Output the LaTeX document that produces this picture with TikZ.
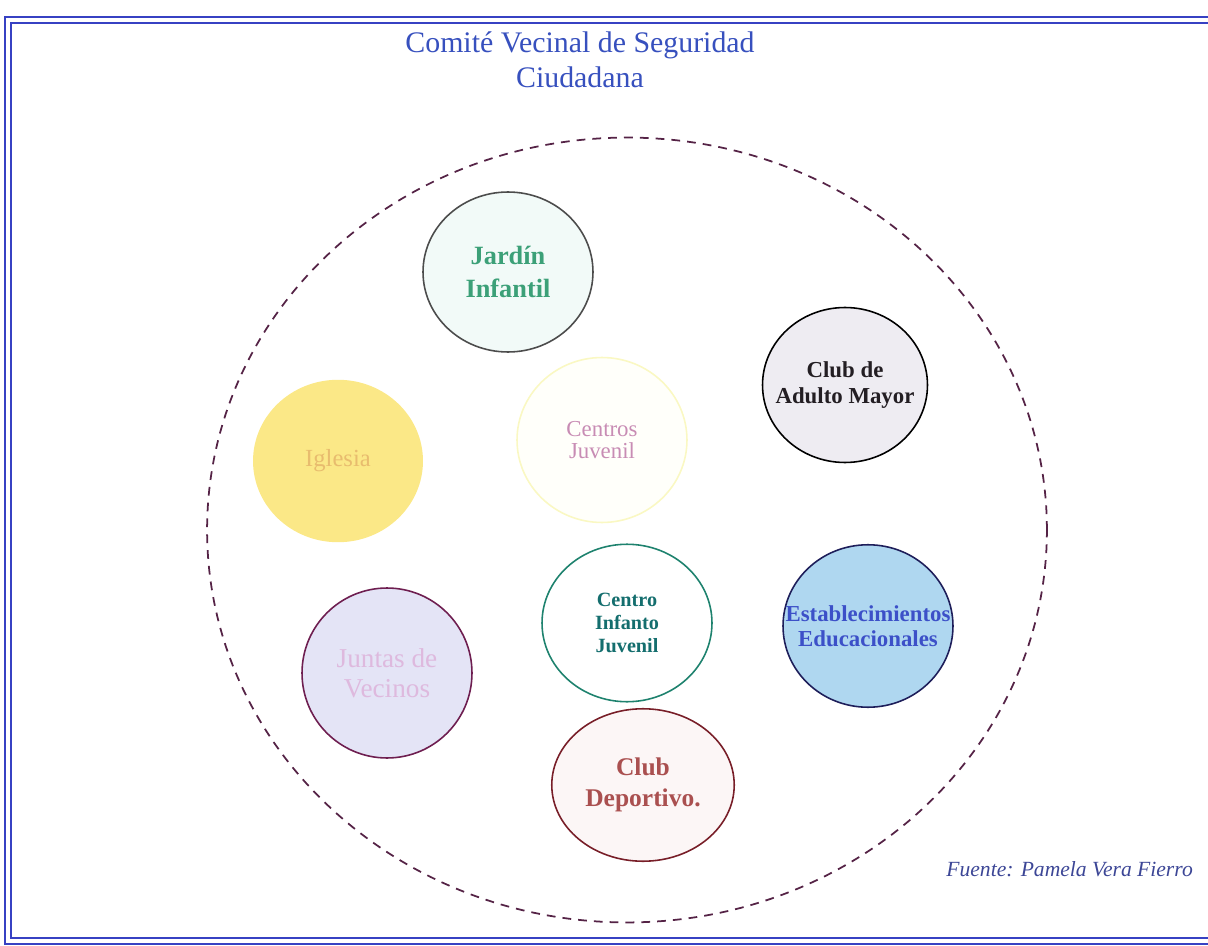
\documentclass[tikz,border=0pt]{standalone}
\usepackage{fontspec}
\setmainfont{Liberation Serif}
\usepackage{tikz}
\usetikzlibrary{shapes.geometric}
\definecolor{framebl}{RGB}{55,65,195}
\definecolor{titlebl}{RGB}{55,80,190}
\definecolor{ringcol}{RGB}{85,35,70}
\def\Member#1#2#3#4#5#6{%
 \node (#1) [member, #4] at (#2,#3) {};
 \node (#1-text) [member text, #5] at (#1.center) {#6};
}
\tikzset{x=0.02cm, y=-0.02cm,
  member/.style={ellipse, draw, line width=0.9pt, inner sep=0pt,
        minimum width=3.4cm, minimum height=3.2cm},
  member text/.style={align=center, inner sep=0pt},
  ring/.style={ellipse, draw=ringcol, line width=1pt,
        dash pattern=on 5pt off 4pt, inner sep=0pt},
  frame line/.style={draw=framebl, line width=1.1pt, double=white,
        double distance=2pt}
  }
\begin{document}
\begin{tikzpicture}
\useasboundingbox (0,0) rectangle (1208,946);
\begin{scope}
  \clip (0,0) rectangle (1208,946);
  \draw[frame line] (8,20) rectangle (1240,941);
\end{scope}
\node (Title) [titlebl, align=center, font=\fontsize{17}{20}\selectfont] at (580,60)
  {Comité Vecinal de Seguridad\\Ciudadana};
\node (Ring) [ring, minimum width=16.8cm, minimum height=15.7cm] at (627,530) {};
%\Member{name}{x}{y}{shape}{text style}{text}
\Member{jardin}{508}{272}{draw=black!70, fill={rgb,255:red,242;green,250;blue,248}}
  {text={rgb,255:red,60;green,160;blue,120}, font=\fontsize{15}{19}\selectfont\bfseries}{Jardín\\Infantil}
\Member{adulto}{845}{385}{draw=black, fill={rgb,255:red,238;green,236;blue,242},
  minimum width=3.3cm, minimum height=3.1cm}
  {text={rgb,255:red,35;green,30;blue,35}, font=\fontsize{13}{15}\selectfont\bfseries}{Club de\\Adulto Mayor}
\Member{iglesia}{338}{461}{draw=none, fill={rgb,255:red,251;green,232;blue,135},
  minimum height=3.25cm}
  {text={rgb,255:red,232;green,188;blue,110}, font=\fontsize{14}{18}\selectfont}{Iglesia}
\Member{centros}{602}{440}{draw={rgb,255:red,250;green,248;blue,195}, fill={rgb,255:red,255;green,255;blue,250},
  minimum width=3.4cm, minimum height=3.3cm}
  {text={rgb,255:red,200;green,140;blue,180}, font=\fontsize{13}{13}\selectfont}{Centros\\Juvenil}
\Member{infanto}{627}{623}{draw={rgb,255:red,30;green,130;blue,110}, fill=white,
  minimum height=3.15cm}
  {text={rgb,255:red,20;green,110;blue,110}, font=\fontsize{11.5}{13}\selectfont\bfseries}{Centro\\Infanto\\Juvenil}
\Member{educa}{868}{626}{draw={rgb,255:red,30;green,30;blue,90}, fill={rgb,255:red,175;green,215;blue,240},
  minimum height=3.25cm}
  {text={rgb,255:red,60;green,80;blue,200}, font=\fontsize{13}{14}\selectfont\bfseries}{Establecimientos\\Educacionales}
\Member{juntas}{387}{673}{draw={rgb,255:red,110;green,30;blue,80}, fill={rgb,255:red,228;green,228;blue,246},
  minimum height=3.4cm}
  {text={rgb,255:red,222;green,185;blue,222}, font=\fontsize{15.5}{17}\selectfont}{Juntas de\\Vecinos}
\Member{deportivo}{643}{785}{draw={rgb,255:red,120;green,30;blue,40}, fill={rgb,255:red,252;green,246;blue,246},
  minimum width=3.65cm, minimum height=3.05cm}
  {text={rgb,255:red,170;green,80;blue,80}, font=\fontsize{14.5}{18}\selectfont\bfseries}{Club\\Deportivo.}
\node (Source) [anchor=east, text={rgb,255:red,60;green,70;blue,150},
  font=\fontsize{12.3}{14}\selectfont\itshape] at (1199,869) {Fuente: Pamela Vera Fierro};
\end{tikzpicture}
\end{document}
